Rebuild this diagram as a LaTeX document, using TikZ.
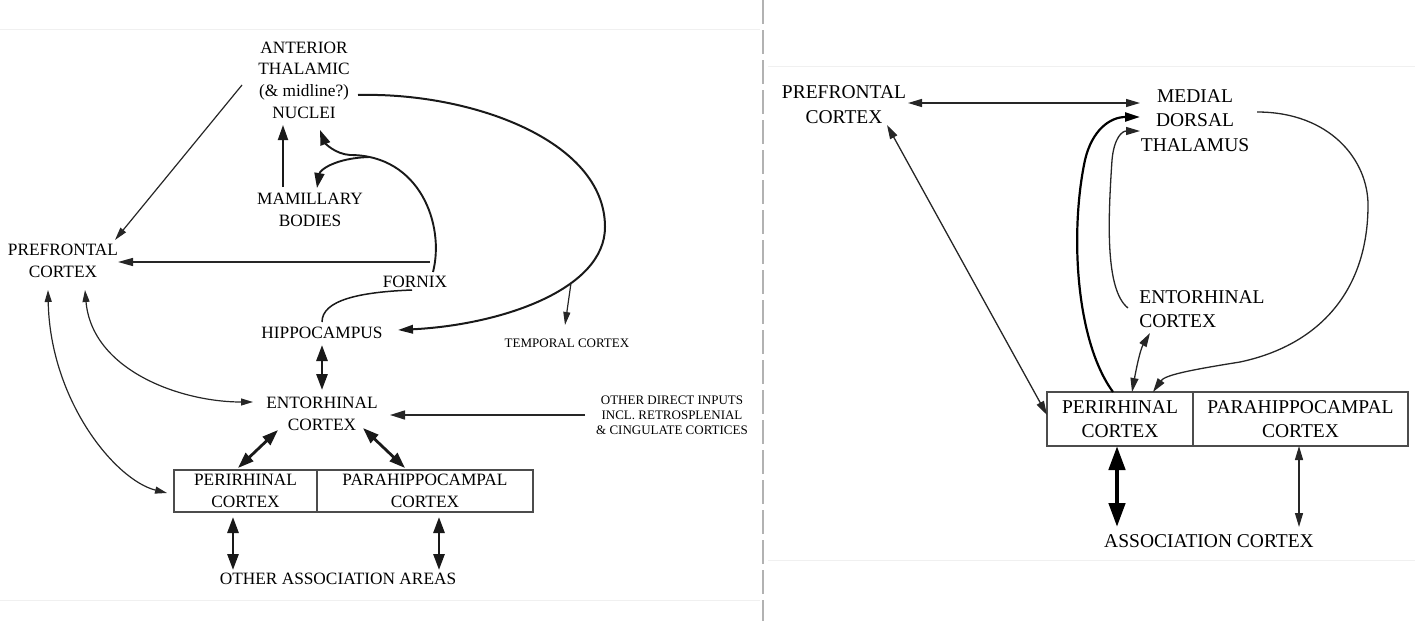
\documentclass[tikz,border=0pt]{standalone}
\usepackage{fontspec}
\setmainfont{Liberation Serif}
\usetikzlibrary{arrows.meta}
\begin{document}
\begin{tikzpicture}[x=1pt,y=-1pt,
  lt/.style={font=\fontsize{17.3}{21.7}\selectfont, inner sep=0pt, align=center, text=black},
  rt/.style={font=\fontsize{19.5}{24.5}\selectfont, inner sep=0pt, align=center, text=black},
  sm/.style={font=\fontsize{13}{15}\selectfont, inner sep=0pt, align=center, text=black},
  boxst/.style={draw=black!70, line width=1.2pt},
  conn/.style={line width=1.2pt, draw=black!85, -{Triangle[length=13pt,width=7pt]}},
  conntwo/.style={line width=1.2pt, draw=black!85, {Triangle[length=12pt,width=7pt]}-{Triangle[length=12pt,width=7pt]}},
  medarr/.style={line width=1.9pt, draw=black!90, -{Triangle[length=15pt,width=10pt]}},
  heavytwo/.style={line width=2.8pt, draw=black!90, {Triangle[length=16pt,width=11pt]}-{Triangle[length=16pt,width=11pt]}},
  rconn/.style={line width=1.3pt, draw=black!85, -{Triangle[length=14pt,width=8pt]}},
  rconntwo/.style={line width=1.3pt, draw=black!85, {Triangle[length=14pt,width=8pt]}-{Triangle[length=14pt,width=8pt]}},
  rmed/.style={line width=2.2pt, draw=black, -{Triangle[length=15pt,width=9pt]}},
  hugetwo/.style={line width=4.5pt, draw=black, {Triangle[length=24pt,width=16pt]}-{Triangle[length=24pt,width=16pt]}},
  frame/.style={draw=black!6, line width=0.8pt}
]
\useasboundingbox (0,0) rectangle (1415,621);
% faint panel edges and divider
\draw[frame] (0,29) -- (760,29);
\draw[frame] (0,600) -- (760,600);
\draw[frame] (768,66) -- (1415,66);
\draw[frame] (768,560) -- (1415,560);
\draw[black!30, line width=1.6pt, dash pattern=on 24pt off 6pt] (763,0) -- (763,621);

% ---------------- left panel ----------------
\node[lt] (atn) at (304,80) {ANTERIOR\\THALAMIC\\(\& midline?)\\NUCLEI};
\node[lt] (mb) at (310,210) {MAMILLARY\\BODIES};
\node[lt] (pfc) at (63,261) {PREFRONTAL\\CORTEX};
\node[lt] (fornix) at (415,282) {FORNIX};
\node[lt] (hip) at (322,333) {HIPPOCAMPUS};
\node[lt] (ent) at (322,414) {ENTORHINAL\\CORTEX};
\node[lt, boxst, minimum width=143pt, minimum height=42pt] (per) at (245.5,491) {PERIRHINAL\\CORTEX};
\node[lt, boxst, minimum width=216pt, minimum height=42pt] (para) at (425,491) {PARAHIPPOCAMPAL\\CORTEX};
\node[lt] (oaa) at (338,579) {OTHER ASSOCIATION AREAS};
\node[sm] (odi) at (672,415) {OTHER DIRECT INPUTS\\INCL. RETROSPLENIAL\\\& CINGULATE CORTICES};
\node[sm] (tc) at (567,343) {TEMPORAL CORTEX};

\draw[conn] ([shift={(-62,5)}]atn.center) -- ([shift={(52,-21)}]pfc.center);
\draw[medarr] ([shift={(-27,-23)}]mb.center) -- ([shift={(-21,45)}]atn.center);
\draw[medarr] ([shift={(18,-10)}]fornix.center) .. controls (445,225) and (420,155) .. (350,155) coordinate[pos=0.9] (fx)
   .. controls (335,154) and (325,143) .. ([shift={(16,50)}]atn.center);
\draw[medarr] (fx) .. controls (335,158) and (320,170) .. ([shift={(7,-22)}]mb.center);
\draw[line width=1.4pt, draw=black!85, -{Triangle[length=15pt,width=8pt]}] ([shift={(15,-20)}]fornix.center) -- ([shift={(55,1)}]pfc.center);
\draw[line width=1.5pt, draw=black!90] ([shift={(0,-11)}]hip.center) .. controls (322,300) and (360,292) .. ([shift={(-3,8)}]fornix.center);
\draw[line width=2pt, draw=black!90, -{Triangle[length=15pt,width=8.5pt]}] ([shift={(54,15)}]atn.center) .. controls (470,92) and (605,140) .. (605,227)
   .. controls (605,290) and (500,325) .. ([shift={(76,-3)}]hip.center) coordinate[pos=0.35] (tcsrc);
\draw[conn] (tcsrc) -- ([shift={(-2,-18)}]tc.center);
\draw[heavytwo] ([shift={(0,12)}]hip.center) -- ([shift={(0,-24)}]ent.center);
\draw[conntwo] ([shift={(22,29)}]pfc.center) .. controls (92,370) and (180,402) .. ([shift={(-69,-12)}]ent.center);
\draw[conntwo] ([shift={(-15,29)}]pfc.center) .. controls (50,400) and (115,480) .. ([shift={(-78.5,2)}]per.center);
\draw[heavytwo] ([shift={(-7.5,-23)}]per.center) -- ([shift={(-44,16)}]ent.center);
\draw[heavytwo] ([shift={(41,14)}]ent.center) -- ([shift={(-20,-23)}]para.center);
\draw[heavytwo] ([shift={(-12.5,26)}]per.center) -- ([shift={(-105,-9)}]oaa.center);
\draw[heavytwo] ([shift={(14,26)}]para.center) -- ([shift={(101,-9)}]oaa.center);
\draw[line width=1.6pt, draw=black!85, -{Triangle[length=15pt,width=9pt]}] ([shift={(-87,0)}]odi.center) -- ([shift={(68,1)}]ent.center);

% ---------------- right panel ----------------
\node[rt] (rpfc) at (844,104.5) {PREFRONTAL\\CORTEX};
\node[rt] (md) at (1195,120.5) {MEDIAL\\DORSAL\\THALAMUS};
\node[rt, align=left] (rent) at (1202,309) {ENTORHINAL\\CORTEX};
\node[rt, boxst, minimum width=146pt, minimum height=54pt] (rper) at (1120,419) {PERIRHINAL\\CORTEX};
\node[rt, boxst, minimum width=215pt, minimum height=54pt] (rpara) at (1300.5,419) {PARAHIPPOCAMPAL\\CORTEX};
\node[rt] (assoc) at (1209,541) {ASSOCIATION CORTEX};

\draw[rconntwo] ([shift={(64,-1.5)}]rpfc.center) -- ([shift={(-55,-17.5)}]md.center);
\draw[rconntwo] ([shift={(43,20.5)}]rpfc.center) -- ([shift={(-73,-4)}]rper.center);
\draw[rmed] ([shift={(-7,-27)}]rper.center) .. controls (1075,340) and (1070,230) .. (1085,160)
   .. controls (1092,130) and (1110,117) .. ([shift={(-55,-3.5)}]md.center);
\draw[rconn] ([shift={(-74,-1)}]rent.center) .. controls (1105,290) and (1108,220) .. (1112,160)
   .. controls (1114,138) and (1122,131) .. ([shift={(-55,10.5)}]md.center);
\draw[rconn] ([shift={(62,-8.5)}]md.center) .. controls (1330,112) and (1368,160) .. (1368,205)
   .. controls (1368,290) and (1320,345) .. (1240,362)
   .. controls (1190,370) and (1165,375) .. ([shift={(33,-27)}]rper.center);
\draw[rconntwo] ([shift={(12,-27)}]rper.center) .. controls (1136,370) and (1140,350) .. ([shift={(-52,24)}]rent.center);
\draw[hugetwo] ([shift={(-3,27)}]rper.center) -- ([shift={(-92,-14)}]assoc.center);
\draw[rconntwo] ([shift={(-1.5,27)}]rpara.center) -- ([shift={(90,-14)}]assoc.center);
\end{tikzpicture}
\end{document}
